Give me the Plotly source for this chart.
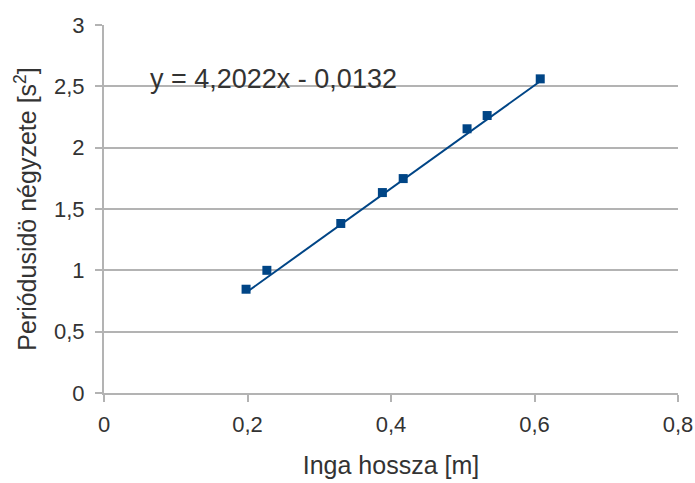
import plotly.graph_objects as go

length_m = [0.198, 0.227, 0.330, 0.388, 0.417, 0.506, 0.534, 0.608]
period_sq = [0.846, 1.00, 1.382, 1.634, 1.748, 2.154, 2.262, 2.561]
slope = 4.2022
intercept = -0.0132
x_ticks = [0, 0.2, 0.4, 0.6, 0.8]
x_labels = ["0", "0,2", "0,4", "0,6", "0,8"]
y_ticks = [0, 0.5, 1, 1.5, 2, 2.5, 3]
y_labels = ["0", "0,5", "1", "1,5", "2", "2,5", "3"]

color = "#004586"
grid = "#b3b3b3"
txt = "#333333"

xfit = [min(length_m), max(length_m)]
yfit = [slope * v + intercept for v in xfit]

fig = go.Figure()
fig.add_trace(go.Scatter(x=xfit, y=yfit, mode="lines",
                         line=dict(color=color, width=2), hoverinfo="skip"))
fig.add_trace(go.Scatter(x=length_m, y=period_sq, mode="markers",
                         marker=dict(symbol="square", size=9, color=color)))

fig.add_annotation(x=0.062, y=2.56, xref="x", yref="y", xanchor="left",
                   text="y = 4,2022x - 0,0132", showarrow=False,
                   font=dict(size=27, color=txt, family="Liberation Sans"))

fig.update_layout(
    width=695, height=483,
    margin=dict(l=104, r=17, t=25, b=90),
    plot_bgcolor="white", paper_bgcolor="white",
    showlegend=False,
    font=dict(family="Liberation Sans", color=txt, size=22),
    xaxis=dict(range=[0, 0.8], tickvals=x_ticks, ticktext=x_labels,
               showgrid=False, zeroline=False, showline=True, linecolor=grid,
               linewidth=2, ticks="outside", tickcolor=grid, ticklen=7,
               tickwidth=2, ticklabelstandoff=4, automargin=False,
               tickfont=dict(size=22),
               title=dict(text="Inga hossza [m]", font=dict(size=25), standoff=20)),
    yaxis=dict(range=[0, 3], tickvals=y_ticks, ticktext=y_labels,
               showgrid=True, gridcolor=grid,
               gridwidth=2, zeroline=False, showline=True, linecolor=grid,
               linewidth=2, ticks="outside", tickcolor=grid, ticklen=7,
               tickwidth=2, ticklabelstandoff=6, automargin=False,
               tickfont=dict(size=22),
               title=dict(text="Periódusidö négyzete [s<sup>2</sup>]",
                          font=dict(size=25), standoff=10)),
)

fig.write_html("out.html")
